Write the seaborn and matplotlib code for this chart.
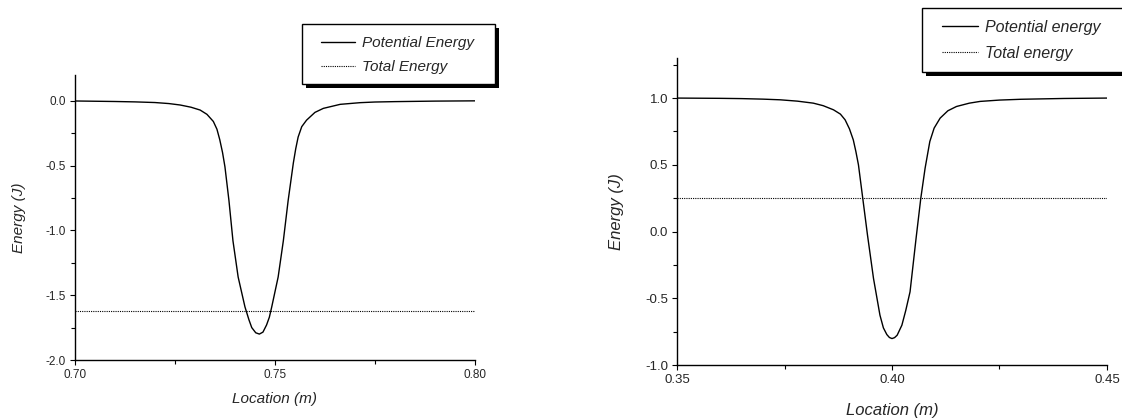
import matplotlib
matplotlib.use("Agg")
import matplotlib.pyplot as plt
from matplotlib.patches import Rectangle
from matplotlib.ticker import AutoMinorLocator, FormatStrFormatter
import seaborn as sns

# Venstre panel: potensiell energi og total energi
loc_a = [0.7000, 0.7050, 0.7100, 0.7150, 0.7200, 0.7235, 0.7263, 0.7290, 0.7313,
         0.7330, 0.7346, 0.7355, 0.7362, 0.7369, 0.7375, 0.7385, 0.7395, 0.7408,
         0.7425, 0.7435, 0.7442, 0.7452, 0.7461, 0.7470, 0.7479, 0.7486, 0.7492,
         0.7508, 0.7521, 0.7533, 0.7546, 0.7552, 0.7558, 0.7567, 0.7579, 0.7600,
         0.7621, 0.7663, 0.7713, 0.7750, 0.7800, 0.7850, 0.7900, 0.8000]
pot_a = [-0.002, -0.004, -0.006, -0.009, -0.014, -0.022, -0.033, -0.050, -0.072,
         -0.105, -0.160, -0.220, -0.300, -0.400, -0.510, -0.770, -1.080, -1.360,
         -1.590, -1.690, -1.750, -1.790, -1.800, -1.785, -1.730, -1.670, -1.590,
         -1.360, -1.080, -0.770, -0.480, -0.370, -0.280, -0.200, -0.150, -0.090,
         -0.059, -0.028, -0.015, -0.010, -0.007, -0.005, -0.003, -0.001]
tot_loc_a = [0.70, 0.80]
tot_a = [-1.62, -1.62]

# Høyre panel
loc_b = [0.3500, 0.3600, 0.3650, 0.3700, 0.3740, 0.3780, 0.3817, 0.3840, 0.3864,
         0.3880, 0.3891, 0.3901, 0.3910, 0.3916, 0.3922, 0.3932, 0.3943, 0.3957,
         0.3972, 0.3980, 0.3988, 0.3994, 0.4000, 0.4006, 0.4012, 0.4023, 0.4032,
         0.4042, 0.4056, 0.4067, 0.4077, 0.4088, 0.4098, 0.4112, 0.4130, 0.4150,
         0.4180, 0.4205, 0.4250, 0.4300, 0.4400, 0.4500]
pot_b = [1.000, 0.998, 0.996, 0.992, 0.987, 0.977, 0.962, 0.943, 0.912,
         0.880, 0.837, 0.770, 0.687, 0.600, 0.500, 0.250, -0.025, -0.350,
         -0.625, -0.720, -0.770, -0.792, -0.800, -0.793, -0.775, -0.700, -0.590,
         -0.450, -0.050, 0.250, 0.475, 0.675, 0.775, 0.850, 0.905, 0.937,
         0.962, 0.975, 0.985, 0.991, 0.997, 1.000]
tot_loc_b = [0.35, 0.45]
tot_b = [0.25, 0.25]

sns.set_style("ticks")
plt.rcParams["font.family"] = ["Liberation Sans", "DejaVu Sans"]
plt.rcParams["axes.unicode_minus"] = False

fig = plt.figure(figsize=(11.22, 4.19), dpi=100)
ax1 = fig.add_axes([0.0668, 0.1408, 0.3565, 0.6807])
ax2 = fig.add_axes([0.6034, 0.1282, 0.3832, 0.7334])

# (axes, data..., xlim, ylim, ticks, tick size, label size, legend size,
#  legend anchor, legend box, ylabel pad, xlabel pad, label spacing)
panels = [
    (ax1, loc_a, pot_a, tot_loc_a, tot_a, "Potential Energy", "Total Energy",
     (0.70, 0.80), (-2.0, 0.2), [0.70, 0.75, 0.80], [-2.0, -1.5, -1.0, -0.5, 0.0],
     8.5, 11, 11, (0.2861, 0.9131), (0.2692, 0.7995, 0.1720, 0.1432), 14, 8, 0.63),
    (ax2, loc_b, pot_b, tot_loc_b, tot_b, "Potential energy", "Total energy",
     (0.35, 0.45), (-1.0, 1.3), [0.35, 0.40, 0.45], [-1.0, -0.5, 0.0, 0.5, 1.0],
     9.5, 12, 11.5, (0.8396, 0.9534), (0.8217, 0.8282, 0.19, 0.1527), 15, 12, 0.69),
]

for (ax, x, y, tx, ty, lab1, lab2, xlim, ylim, xt, yt,
     tickfs, labfs, legfs, anchor, box, ypad, xpad, lspace) in panels:
    sns.lineplot(x=x, y=y, ax=ax, color="black", linewidth=1.0,
                 estimator=None, sort=False, label=lab1)
    sns.lineplot(x=tx, y=ty, ax=ax, color="black", linewidth=0.8,
                 linestyle=(0, (1, 1)), estimator=None, sort=False, label=lab2)
    ax.set_xlim(*xlim)
    ax.set_ylim(*ylim)
    ax.set_xticks(xt)
    ax.set_yticks(yt)
    ax.xaxis.set_major_formatter(FormatStrFormatter("%.2f"))
    ax.yaxis.set_major_formatter(FormatStrFormatter("%.1f"))
    ax.xaxis.set_minor_locator(AutoMinorLocator(2))
    ax.yaxis.set_minor_locator(AutoMinorLocator(2))
    ax.tick_params(which="major", direction="out", length=3.5, width=0.8,
                   labelsize=tickfs, pad=3, color="black")
    ax.tick_params(which="minor", direction="out", length=3, width=0.8, color="black")
    sns.despine(ax=ax)
    for s in ["left", "bottom"]:
        ax.spines[s].set_linewidth(1.0)
        ax.spines[s].set_color("black")
    ax.set_xlabel("Location (m)", fontsize=labfs, style="italic", labelpad=xpad)
    ax.set_ylabel("Energy (J)", fontsize=labfs, style="italic", labelpad=ypad)

    # legend frame with a solid black drop shadow, like the original
    bx, by, bw, bh = box
    fig.patches.append(Rectangle((bx + 0.0036, by - 0.0100), bw, bh,
                                 transform=fig.transFigure, facecolor="black",
                                 edgecolor="none", zorder=3))
    fig.patches.append(Rectangle((bx, by), bw, bh, transform=fig.transFigure,
                                 facecolor="white", edgecolor="black",
                                 linewidth=1.0, zorder=4))

    h, l = ax.get_legend_handles_labels()
    ax.get_legend().remove()
    leg = fig.legend(h, l, loc="upper left", bbox_to_anchor=anchor,
                     borderaxespad=0, borderpad=0, frameon=False,
                     prop={"family": "Liberation Sans", "style": "italic", "size": legfs},
                     handlelength=2.25, handletextpad=0.45, labelspacing=lspace)
    leg.set_zorder(5)

fig.savefig("out.png", dpi=100)
